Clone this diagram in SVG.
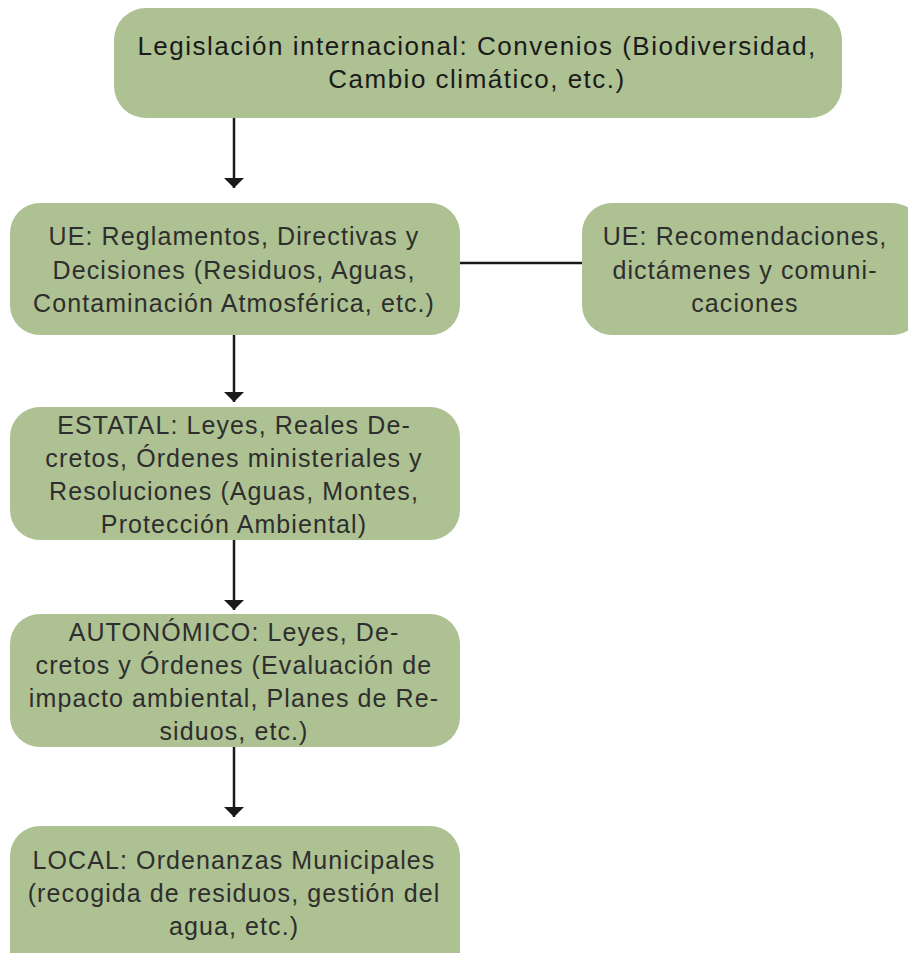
<svg xmlns="http://www.w3.org/2000/svg" width="908" height="953" viewBox="0 0 908 953">
<defs>
<style>
.box{fill:#adc192;}
.t{font-family:"Liberation Sans",Arial,sans-serif;font-size:25px;letter-spacing:1.1px;fill:#2e2e2e;text-anchor:middle;}
.tb{font-family:"Liberation Sans",Arial,sans-serif;font-size:26px;letter-spacing:1.5px;fill:#1a1a1a;text-anchor:middle;}
.ln{stroke:#1a1a1a;stroke-width:2.5;fill:none;}
</style>
<marker id="ad" viewBox="0 0 20 10" refX="10" refY="10" markerWidth="20" markerHeight="10" markerUnits="userSpaceOnUse" orient="0">
<path d="M0,0 L20,0 L10,10 Z" fill="#1a1a1a"/>
</marker>
</defs>
<g id="connectors">
<line class="ln" x1="234" y1="118" x2="234" y2="188" marker-end="url(#ad)"/>
<line class="ln" x1="460" y1="263" x2="582" y2="263"/>
<line class="ln" x1="234" y1="335" x2="234" y2="402" marker-end="url(#ad)"/>
<line class="ln" x1="234" y1="540" x2="234" y2="610" marker-end="url(#ad)"/>
<line class="ln" x1="234" y1="747" x2="234" y2="817" marker-end="url(#ad)"/>
</g>
<g id="n-internacional">
<rect class="box" x="114" y="8" width="728" height="110" rx="32"/>
<text class="tb" x="477" y="55">Legislación internacional: Convenios (Biodiversidad,</text>
<text class="tb" x="477" y="88">Cambio climático, etc.)</text>
</g>
<g id="n-ue">
<rect class="box" x="10" y="203" width="450" height="132" rx="30"/>
<text class="t" x="234" y="245">UE: Reglamentos, Directivas y</text>
<text class="t" x="234" y="279">Decisiones (Residuos, Aguas,</text>
<text class="t" x="234" y="312">Contaminación Atmosférica, etc.)</text>
</g>
<g id="n-ue-rec">
<rect class="box" x="582" y="203" width="340" height="132" rx="30"/>
<text class="t" x="745" y="245">UE: Recomendaciones,</text>
<text class="t" x="745" y="279">dictámenes y comuni-</text>
<text class="t" x="745" y="312">caciones</text>
</g>
<g id="n-estatal">
<rect class="box" x="10" y="407" width="450" height="133" rx="30"/>
<text class="t" x="234" y="434">ESTATAL: Leyes, Reales De-</text>
<text class="t" x="234" y="467">cretos, Órdenes ministeriales y</text>
<text class="t" x="234" y="500">Resoluciones (Aguas, Montes,</text>
<text class="t" x="234" y="533">Protección Ambiental)</text>
</g>
<g id="n-autonomico">
<rect class="box" x="10" y="614" width="450" height="133" rx="30"/>
<text class="t" x="234" y="641">AUTONÓMICO: Leyes, De-</text>
<text class="t" x="234" y="674">cretos y Órdenes (Evaluación de</text>
<text class="t" x="234" y="707">impacto ambiental, Planes de Re-</text>
<text class="t" x="234" y="740">siduos, etc.)</text>
</g>
<g id="n-local">
<rect class="box" x="10" y="826" width="450" height="160" rx="30"/>
<text class="t" x="234" y="869">LOCAL: Ordenanzas Municipales</text>
<text class="t" x="234" y="902">(recogida de residuos, gestión del</text>
<text class="t" x="234" y="935">agua, etc.)</text>
</g>
</svg>
